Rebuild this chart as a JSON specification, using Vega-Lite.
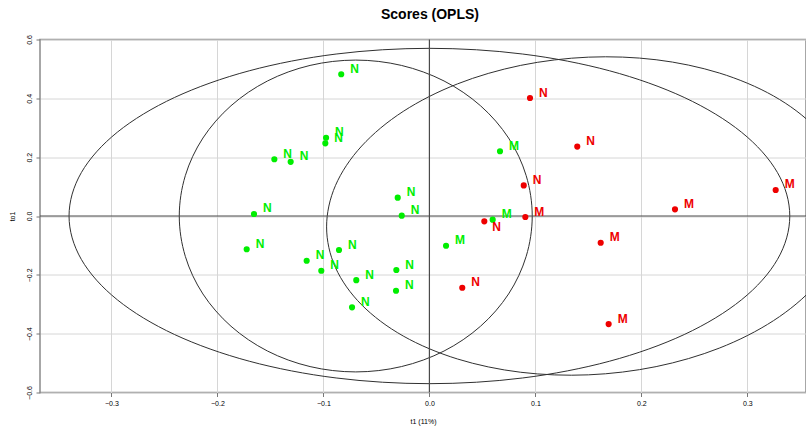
{
  "$schema": "https://vega.github.io/schema/vega-lite/v6.json",
  "width": 766,
  "height": 353,
  "autosize": {"type": "none"},
  "padding": {"left": 40, "top": 39.5, "right": 0, "bottom": 33.5},
  "background": "white",
  "config": {"view": {"stroke": "#8a8a8a", "strokeWidth": 1.5}, "font": "Liberation Sans"},
  "title": {"text": "Scores (OPLS)", "fontSize": 14, "fontWeight": "bold", "font": "Liberation Sans", "color": "#000000", "anchor": "middle", "dx": 7, "offset": 13},
  "datasets": {
    "pts": [
      {"t1": -0.0832, "to1": 0.482, "label": "N", "group": "g"},
      {"t1": -0.0975, "to1": 0.266, "label": "N", "group": "g"},
      {"t1": -0.0982, "to1": 0.247, "label": "N", "group": "g"},
      {"t1": -0.1463, "to1": 0.193, "label": "N", "group": "g"},
      {"t1": -0.1309, "to1": 0.184, "label": "N", "group": "g"},
      {"t1": -0.1655, "to1": 0.0068, "label": "N", "group": "g"},
      {"t1": -0.1724, "to1": -0.113, "label": "N", "group": "g"},
      {"t1": -0.1158, "to1": -0.152, "label": "N", "group": "g"},
      {"t1": -0.102, "to1": -0.186, "label": "N", "group": "g"},
      {"t1": -0.0853, "to1": -0.1156, "label": "N", "group": "g"},
      {"t1": -0.069, "to1": -0.218, "label": "N", "group": "g"},
      {"t1": -0.073, "to1": -0.3106, "label": "N", "group": "g"},
      {"t1": -0.0299, "to1": 0.0623, "label": "N", "group": "g"},
      {"t1": -0.0261, "to1": 0.001, "label": "N", "group": "g"},
      {"t1": -0.0312, "to1": -0.1837, "label": "N", "group": "g"},
      {"t1": -0.0315, "to1": -0.254, "label": "N", "group": "g"},
      {"t1": 0.0666, "to1": 0.22, "label": "M", "group": "g"},
      {"t1": 0.0597, "to1": -0.0126, "label": "M", "group": "g"},
      {"t1": 0.0157, "to1": -0.101, "label": "M", "group": "g"},
      {"t1": 0.0949, "to1": 0.401, "label": "N", "group": "r"},
      {"t1": 0.1395, "to1": 0.236, "label": "N", "group": "r"},
      {"t1": 0.089, "to1": 0.104, "label": "N", "group": "r"},
      {"t1": 0.0518, "to1": -0.018, "label": "N", "group": "r"},
      {"t1": 0.031, "to1": -0.244, "label": "N", "group": "r"},
      {"t1": 0.0905, "to1": -0.0034, "label": "M", "group": "r"},
      {"t1": 0.1616, "to1": -0.0908, "label": "M", "group": "r"},
      {"t1": 0.1691, "to1": -0.3673, "label": "M", "group": "r"},
      {"t1": 0.2317, "to1": 0.0228, "label": "M", "group": "r"},
      {"t1": 0.3267, "to1": 0.0884, "label": "M", "group": "r"}
    ],
    "ell": [
      {"e": "A", "i": 0, "x": 0.34, "y": 0},
      {"e": "A", "i": 1, "x": 0.3284, "y": 0.1475},
      {"e": "A", "i": 2, "x": 0.2944, "y": 0.285},
      {"e": "A", "i": 3, "x": 0.2404, "y": 0.403},
      {"e": "A", "i": 4, "x": 0.17, "y": 0.4936},
      {"e": "A", "i": 5, "x": 0.088, "y": 0.5506},
      {"e": "A", "i": 6, "x": 0, "y": 0.57},
      {"e": "A", "i": 7, "x": -0.088, "y": 0.5506},
      {"e": "A", "i": 8, "x": -0.17, "y": 0.4936},
      {"e": "A", "i": 9, "x": -0.2404, "y": 0.403},
      {"e": "A", "i": 10, "x": -0.2944, "y": 0.285},
      {"e": "A", "i": 11, "x": -0.3284, "y": 0.1475},
      {"e": "A", "i": 12, "x": -0.34, "y": 0},
      {"e": "A", "i": 13, "x": -0.3284, "y": -0.1475},
      {"e": "A", "i": 14, "x": -0.2944, "y": -0.285},
      {"e": "A", "i": 15, "x": -0.2404, "y": -0.403},
      {"e": "A", "i": 16, "x": -0.17, "y": -0.4936},
      {"e": "A", "i": 17, "x": -0.088, "y": -0.5506},
      {"e": "A", "i": 18, "x": 0, "y": -0.57},
      {"e": "A", "i": 19, "x": 0.088, "y": -0.5506},
      {"e": "A", "i": 20, "x": 0.17, "y": -0.4936},
      {"e": "A", "i": 21, "x": 0.2404, "y": -0.403},
      {"e": "A", "i": 22, "x": 0.2944, "y": -0.285},
      {"e": "A", "i": 23, "x": 0.3284, "y": -0.1475},
      {"e": "B", "i": 0, "x": 0.097, "y": 0},
      {"e": "B", "i": 1, "x": 0.0913, "y": 0.1372},
      {"e": "B", "i": 2, "x": 0.0747, "y": 0.265},
      {"e": "B", "i": 3, "x": 0.0482, "y": 0.3748},
      {"e": "B", "i": 4, "x": 0.0138, "y": 0.459},
      {"e": "B", "i": 5, "x": -0.0264, "y": 0.5119},
      {"e": "B", "i": 6, "x": -0.0695, "y": 0.53},
      {"e": "B", "i": 7, "x": -0.1126, "y": 0.5119},
      {"e": "B", "i": 8, "x": -0.1528, "y": 0.459},
      {"e": "B", "i": 9, "x": -0.1872, "y": 0.3748},
      {"e": "B", "i": 10, "x": -0.2137, "y": 0.265},
      {"e": "B", "i": 11, "x": -0.2303, "y": 0.1372},
      {"e": "B", "i": 12, "x": -0.236, "y": 0},
      {"e": "B", "i": 13, "x": -0.2303, "y": -0.1372},
      {"e": "B", "i": 14, "x": -0.2137, "y": -0.265},
      {"e": "B", "i": 15, "x": -0.1872, "y": -0.3748},
      {"e": "B", "i": 16, "x": -0.1528, "y": -0.459},
      {"e": "B", "i": 17, "x": -0.1126, "y": -0.5119},
      {"e": "B", "i": 18, "x": -0.0695, "y": -0.53},
      {"e": "B", "i": 19, "x": -0.0264, "y": -0.5119},
      {"e": "B", "i": 20, "x": 0.0138, "y": -0.459},
      {"e": "B", "i": 21, "x": 0.0482, "y": -0.3748},
      {"e": "B", "i": 22, "x": 0.0747, "y": -0.265},
      {"e": "B", "i": 23, "x": 0.0913, "y": -0.1372},
      {"e": "C", "i": 0, "x": 0.397, "y": 0.0371},
      {"e": "C", "i": 1, "x": 0.3886, "y": 0.1756},
      {"e": "C", "i": 2, "x": 0.3639, "y": 0.3021},
      {"e": "C", "i": 3, "x": 0.3247, "y": 0.408},
      {"e": "C", "i": 4, "x": 0.2735, "y": 0.4861},
      {"e": "C", "i": 5, "x": 0.2139, "y": 0.5312},
      {"e": "C", "i": 6, "x": 0.15, "y": 0.54},
      {"e": "C", "i": 7, "x": 0.0861, "y": 0.512},
      {"e": "C", "i": 8, "x": 0.0265, "y": 0.4491},
      {"e": "C", "i": 9, "x": -0.0247, "y": 0.3556},
      {"e": "C", "i": 10, "x": -0.0639, "y": 0.2379},
      {"e": "C", "i": 11, "x": -0.0886, "y": 0.104},
      {"e": "C", "i": 12, "x": -0.097, "y": -0.0371},
      {"e": "C", "i": 13, "x": -0.0886, "y": -0.1756},
      {"e": "C", "i": 14, "x": -0.0639, "y": -0.3021},
      {"e": "C", "i": 15, "x": -0.0247, "y": -0.408},
      {"e": "C", "i": 16, "x": 0.0265, "y": -0.4861},
      {"e": "C", "i": 17, "x": 0.0861, "y": -0.5312},
      {"e": "C", "i": 18, "x": 0.15, "y": -0.54},
      {"e": "C", "i": 19, "x": 0.2139, "y": -0.512},
      {"e": "C", "i": 20, "x": 0.2735, "y": -0.4491},
      {"e": "C", "i": 21, "x": 0.3247, "y": -0.3556},
      {"e": "C", "i": 22, "x": 0.3639, "y": -0.2379},
      {"e": "C", "i": 23, "x": 0.3886, "y": -0.104}
    ],
    "zero": [{"v": 0}]
  },
  "layer": [
    {
      "data": {"name": "ell"},
      "mark": {"type": "line", "interpolate": "cardinal-closed", "clip": true, "color": "#303030", "strokeWidth": 1},
      "encoding": {
        "x": {
          "field": "x", "type": "quantitative",
          "scale": {"domain": [-0.3674, 0.3553], "nice": false, "zero": false},
          "axis": {
            "values": [-0.3, -0.2, -0.1, 0, 0.1, 0.2, 0.3], "format": ".1f", "title": "t1 (11%)",
            "grid": true, "gridColor": "#d6d6d6", "gridWidth": 1, "domain": false,
            "ticks": true, "tickSize": 4, "tickColor": "#777777",
            "labelFontSize": 7, "labelColor": "#000000", "labelPadding": 3, "labelFont": "Liberation Sans",
            "titleFontSize": 7, "titleFontWeight": "normal", "titleColor": "#000000", "titleFont": "Liberation Sans",
            "titleY": 28.5, "titleBaseline": "middle"
          }
        },
        "y": {
          "field": "y", "type": "quantitative",
          "scale": {"domain": [-0.6, 0.6], "nice": false, "zero": false},
          "axis": {
            "values": [-0.6, -0.4, -0.2, 0, 0.2, 0.4, 0.6], "format": ".1f", "title": "to1",
            "grid": true, "gridColor": "#d6d6d6", "gridWidth": 1, "domain": false,
            "ticks": true, "tickSize": 4, "tickColor": "#777777",
            "labelFontSize": 7, "labelColor": "#000000", "labelPadding": 4, "labelFont": "Liberation Sans",
            "labelAngle": -90, "labelAlign": "center", "labelBaseline": "bottom",
            "titleFontSize": 7, "titleFontWeight": "normal", "titleColor": "#000000", "titleFont": "Liberation Sans",
            "titleX": -28, "titleY": 176.5, "titleAngle": -90, "titleAlign": "center", "titleBaseline": "middle"
          }
        },
        "detail": {"field": "e"},
        "order": {"field": "i", "type": "quantitative"}
      }
    },
    {
      "data": {"name": "zero"},
      "mark": {"type": "rule", "color": "#4a4a4a", "strokeWidth": 1.2},
      "encoding": {"x": {"field": "v", "type": "quantitative"}}
    },
    {
      "data": {"name": "zero"},
      "mark": {"type": "rule", "color": "#4a4a4a", "strokeWidth": 1.2},
      "encoding": {"y": {"field": "v", "type": "quantitative"}}
    },
    {
      "data": {"name": "pts"},
      "mark": {"type": "circle", "size": 38, "opacity": 1},
      "encoding": {
        "x": {"field": "t1", "type": "quantitative"},
        "y": {"field": "to1", "type": "quantitative"},
        "color": {"field": "group", "type": "nominal", "scale": {"domain": ["g", "r"], "range": ["#00ee00", "#ee0000"]}, "legend": null}
      }
    },
    {
      "data": {"name": "pts"},
      "transform": [{"filter": "datum.t1 != 0.0518"}],
      "mark": {"type": "text", "align": "left", "baseline": "middle", "dx": 9, "dy": -5.5, "fontSize": 12, "fontWeight": "bold", "font": "Liberation Sans"},
      "encoding": {
        "x": {"field": "t1", "type": "quantitative"},
        "y": {"field": "to1", "type": "quantitative"},
        "text": {"field": "label"},
        "color": {"field": "group", "type": "nominal", "scale": {"domain": ["g", "r"], "range": ["#00ee00", "#ee0000"]}, "legend": null}
      }
    },
    {
      "data": {"name": "pts"},
      "transform": [{"filter": "datum.t1 == 0.0518"}],
      "mark": {"type": "text", "align": "left", "baseline": "middle", "dx": 8, "dy": 5.5, "fontSize": 12, "fontWeight": "bold", "font": "Liberation Sans"},
      "encoding": {
        "x": {"field": "t1", "type": "quantitative"},
        "y": {"field": "to1", "type": "quantitative"},
        "text": {"field": "label"},
        "color": {"field": "group", "type": "nominal", "scale": {"domain": ["g", "r"], "range": ["#00ee00", "#ee0000"]}, "legend": null}
      }
    }
  ]
}
